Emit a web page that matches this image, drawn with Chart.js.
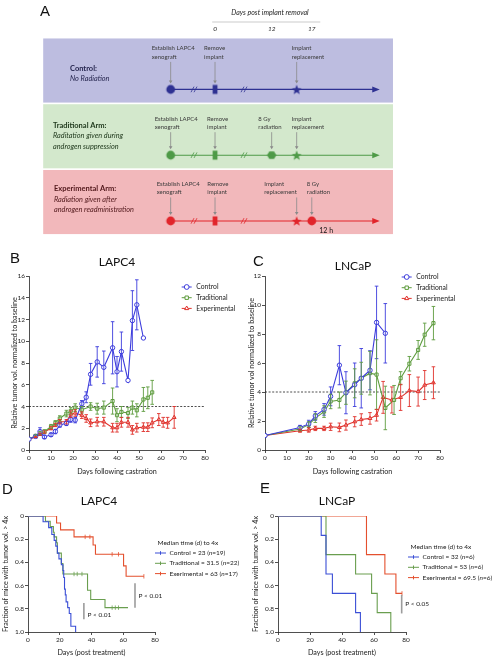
<!DOCTYPE html>
<html>
<head>
<meta charset="utf-8">
<title>Radiation timing and tumour regrowth</title>
<script src="https://cdn.jsdelivr.net/npm/chart.js@4.4.1/dist/chart.umd.min.js"></script>
<style>
  body { margin: 0; background: #fff; }
  #page { position: relative; width: 494px; height: 659px; overflow: hidden; font-family: Lato, "Open Sans", sans-serif; }
  .pane { position: absolute; }
  .letter { position: absolute; font: 15px "Liberation Sans", Arial, sans-serif; line-height: 15px; color: #111; }
  .ttl { position: absolute; font: 12px Lato, sans-serif; line-height: 12px; color: #111; width: 80px; margin-left: -40px; text-align: center; }
</style>
</head>
<body>
<div id="page">
  <div class="pane" style="left:0;top:0;width:494px;height:240px"><canvas id="chartA"></canvas></div>
  <div class="pane" style="left:0;top:240px;width:247px;height:245px"><canvas id="chartB"></canvas></div>
  <div class="pane" style="left:247px;top:240px;width:247px;height:245px"><canvas id="chartC"></canvas></div>
  <div class="pane" style="left:0;top:485px;width:247px;height:174px"><canvas id="chartD"></canvas></div>
  <div class="pane" style="left:247px;top:485px;width:247px;height:174px"><canvas id="chartE"></canvas></div>
  <div class="letter" style="left:40px;top:3px">A</div>
  <div class="letter" style="left:10px;top:250px">B</div>
  <div class="letter" style="left:253px;top:253px">C</div>
  <div class="letter" style="left:2px;top:481px">D</div>
  <div class="letter" style="left:260px;top:480px">E</div>
  <div class="ttl" style="left:117px;top:256px">LAPC4</div>
  <div class="ttl" style="left:353px;top:260px">LNCaP</div>
  <div class="ttl" style="left:99px;top:495px">LAPC4</div>
  <div class="ttl" style="left:337px;top:495px">LNCaP</div>
</div>
<script>
var FONT = 'Lato, "Open Sans", sans-serif';
var INK = '#222';

//! Panel A - study design (schematic positions in days post implant removal)
var armNames = ['Control:', 'Traditional Arm:', 'Experimental Arm:'];
var armNotes = [['No Radiation'], ['Raditation given during', 'androgen suppression'], ['Radiation given after', 'androgen readministration']];
var armLineColors = ['#2e3192', '#4e9a47', '#e1252b'];
var armBoxColors = ['#bdbde0', '#d3e8cc', '#f2b8bb'];
var armTextColors = ['#26264f', '#213a1e', '#4f1619'];
var armEvents = [
    ['establish', 'remove', 'implant'],
    ['establish', 'remove', 'radiation', 'implant'],
    ['establish', 'remove', 'implant', 'radiation']
];
var armEventDays = [
    [-9.4, 0, 17.3],
    [-9.4, 0, 12, 17.3],
    [-9.4, 0, 17.3, 20.5]
];
var armMarkers = [
    ['circle', 'rect', 'star'],
    ['circle', 'rect', 'hex', 'star'],
    ['circle', 'rect', 'star', 'circle']
];
var eventText = {
    establish: ['Establish LAPC4', 'xenograft'],
    remove: ['Remove', 'implant'],
    implant: ['Implant', 'replacement'],
    radiation: ['8 Gy', 'radiation']
};
var headerTitle = 'Days post implant removal';
var headerTicks = ['0', '12', '17'];
var headerTickAt = [0, 12, 20.5];
var breakAt = [-4.45, 6.14];
var timelineStart = -9.4;
var timelineEnd = 34.9;

//! Panel B - LAPC4 relative tumour volume
var bDaysControl = [0, 3, 5, 7, 10, 12, 14, 17, 19, 21, 24, 26, 28, 31, 34, 38, 40, 42, 45, 47, 49, 52];
var bControl = [1, 1.25, 1.7, 1.2, 1.4, 1.7, 2.3, 2.45, 2.8, 2.75, 4.25, 4.85, 6.96, 8.1, 7.6, 9.4, 7.2, 9.05, 6.4, 11.9, 13.35, 10.3];
var bControlErr = [0, 0.1, 0.35, 0.15, 0.15, 0.2, 0.2, 0.2, 0.25, 0.25, 0.3, 0.5, 1.0, 1.4, 1.5, 2.4, 1.4, 1.8, 0, 2.75, 2.3, 0];
var bDaysTrad = [0, 3, 5, 7, 10, 12, 14, 17, 19, 21, 24, 28, 31, 34, 38, 40, 42, 45, 47, 49, 52, 54, 56];
var bTrad = [1, 1.3, 1.55, 1.7, 2.15, 2.5, 2.9, 3.35, 3.6, 3.9, 3.7, 4.0, 3.8, 3.9, 4.5, 3.2, 3.5, 3.4, 3.9, 3.65, 4.65, 4.8, 5.3];
var bTradErr = [0, 0.1, 0.15, 0.15, 0.2, 0.2, 0.25, 0.3, 0.3, 0.35, 0.3, 0.35, 0.5, 0.6, 1.2, 0.6, 0.5, 0.5, 0.6, 0.6, 1.1, 1.0, 1.1];
var bDaysExp = [0, 3, 5, 7, 10, 12, 14, 17, 19, 21, 24, 26, 28, 31, 34, 38, 40, 42, 45, 47, 49, 52, 54, 56, 59, 61, 63, 66];
var bExp = [1, 1.2, 1.45, 1.65, 2.0, 2.3, 2.6, 2.6, 3.3, 3.4, 3.2, 2.9, 2.5, 2.6, 2.6, 2.05, 2.05, 2.55, 2.55, 1.85, 2.05, 2.1, 2.1, 2.5, 2.8, 2.55, 2.5, 3.0];
var bExpErr = [0, 0.05, 0.1, 0.1, 0.15, 0.15, 0.2, 0.2, 0.3, 0.3, 0.3, 0.35, 0.35, 0.4, 0.4, 0.4, 0.4, 0.45, 0.45, 0.4, 0.4, 0.4, 0.4, 0.45, 0.55, 0.45, 0.5, 1.0];

//! Panel C - LNCaP relative tumour volume
var cDaysControl = [0, 16, 20, 23, 27, 30, 34, 37, 41, 44, 48, 51, 55];
var cControl = [1, 1.55, 1.8, 2.35, 2.8, 3.7, 5.85, 3.95, 4.5, 4.95, 5.5, 8.8, 8.05];
var cControlErr = [0, 0.15, 0.25, 0.3, 0.4, 0.65, 1.35, 1.45, 1.5, 2.05, 1.35, 2.5, 2.05];
var cDaysTrad = [0, 16, 20, 23, 27, 30, 34, 37, 41, 44, 48, 51, 55, 59, 62, 66, 70, 73, 77];
var cTrad = [1, 1.45, 1.75, 2.2, 2.65, 3.35, 3.45, 3.95, 4.6, 4.95, 5.3, 5.2, 2.9, 3.45, 4.95, 5.95, 6.9, 7.95, 8.75];
var cTradErr = [0, 0.15, 0.2, 0.3, 0.4, 0.5, 0.55, 0.8, 1.0, 1.1, 1.5, 2.4, 1.5, 1.0, 0.45, 0.5, 0.65, 0.8, 1.15];
var cDaysExp = [0, 16, 20, 23, 27, 30, 34, 37, 41, 44, 48, 51, 54, 58, 62, 66, 70, 73, 77];
var cExp = [1, 1.33, 1.38, 1.49, 1.49, 1.6, 1.56, 1.72, 1.95, 2.1, 2.18, 2.4, 3.63, 3.45, 3.63, 4.1, 4.03, 4.48, 4.64];
var cExpErr = [0, 0.1, 0.15, 0.15, 0.15, 0.25, 0.3, 0.35, 0.35, 0.4, 0.4, 0.4, 1.1, 0.9, 0.9, 1.1, 1.0, 1.0, 1.1];

var growthNames = ['Control', 'Traditional', 'Experimental'];
var growthThreshold = 4;

//! Panel D - LAPC4 time to 4x (fraction reaching 4x, censor ticks flagged with 1)
var dTimeControl = [0, 9.5, 13, 15, 16.5, 17.5, 18.5, 19.5, 21, 22, 22.5, 23, 23.5, 24, 25, 26, 27, 30];
var dFracControl = [0, 0.05, 0.1, 0.16, 0.21, 0.26, 0.32, 0.37, 0.42, 0.47, 0.53, 0.63, 0.68, 0.74, 0.79, 0.84, 0.95, 1];
var dCensControl = [0, 0, 0, 0, 0, 0, 0, 0, 0, 0, 0, 0, 0, 0, 0, 0, 0, 0];
var dTimeTrad = [0, 11, 14, 16, 16.5, 18, 18.5, 21, 22, 29, 31, 34, 37.5, 39.5, 48.5, 53, 55, 57, 63];
var dFracTrad = [0, 0.045, 0.09, 0.14, 0.18, 0.23, 0.32, 0.41, 0.5, 0.5, 0.5, 0.5, 0.64, 0.72, 0.79, 0.79, 0.79, 0.79, 0.79];
var dCensTrad = [0, 0, 0, 0, 0, 0, 0, 0, 0, 1, 1, 1, 0, 0, 0, 1, 1, 1, 0];
var dTimeExp = [0, 18, 20.5, 29, 36, 39, 41, 42.5, 53, 57, 60.2, 61.8, 73];
var dFracExp = [0, 0.06, 0.12, 0.18, 0.18, 0.18, 0.25, 0.33, 0.33, 0.33, 0.43, 0.52, 0.52];
var dCensExp = [0, 0, 0, 0, 1, 1, 0, 0, 1, 1, 0, 0, 1];
var dLegend = ['Control = 23 (n=19)', 'Traditional = 31.5 (n=22)', 'Exerimental = 63 (n=17)'];
var dPvalues = [
    { x: 35.2, y0: 0.75, y1: 0.89, at: 0.85, text: 'P < 0.01' },
    { x: 67.4, y0: 0.58, y1: 0.79, at: 0.69, text: 'P < 0.01' }
];

//! Panel E - LNCaP time to 4x
var eTimeControl = [0, 27, 30, 34, 48.5, 51.5];
var eFracControl = [0, 0.167, 0.5, 0.667, 0.833, 1];
var eCensControl = [0, 0, 0, 0, 0, 0];
var eTimeTrad = [0, 30, 48.5, 58.5, 62, 70.5];
var eFracTrad = [0, 0.333, 0.5, 0.667, 0.833, 1];
var eCensTrad = [0, 0, 0, 0, 0, 0];
var eTimeExp = [0, 55.3, 66.8, 73.7, 77.5];
var eFracExp = [0, 0.333, 0.5, 0.667, 0.667];
var eCensExp = [0, 0, 0, 0, 1];
var eLegend = ['Control = 32 (n=6)', 'Traditional = 53 (n=6)', 'Exerimental = 69.5 (n=6)'];
var ePvalues = [
    { x: 77.3, y0: 0.68, y1: 0.84, at: 0.76, text: 'P < 0.05' }
];
var kmLegendTitle = 'Median time (d) to 4x';

var growthColors = ['#3c3cdc', '#5e9c3e', '#e0322c'];
var kmColors = ['#3b4fd6', '#6a9e4f', '#e4502e'];

function pts(xs, ys) {
    return xs.map(function (x, i) { return { x: x, y: ys[i] }; });
}

function shapeCanvas(shape, color) {
    var c = document.createElement('canvas');
    c.width = 14;
    c.height = 14;
    var g = c.getContext('2d');
    g.fillStyle = color;
    g.beginPath();
    if (shape === 'circle') {
        g.arc(7, 7, 4.4, 0, Math.PI * 2);
    } else if (shape === 'rect') {
        g.rect(4.6, 2.5, 4.8, 9);
    } else if (shape === 'hex') {
        for (var k = 0; k < 6; k++) {
            var a = Math.PI / 3 * k;
            g.lineTo(7 + 4.7 * Math.cos(a), 7 + 4.3 * Math.sin(a));
        }
    } else {
        for (var s = 0; s < 10; s++) {
            var r = s % 2 ? 2.2 : 5.2;
            var b = -Math.PI / 2 + Math.PI / 5 * s;
            g.lineTo(7 + r * Math.cos(b), 7.5 + r * Math.sin(b));
        }
    }
    g.closePath();
    g.fill();
    return c;
}

// layout nudges for the schematic text (pixels)
var nameX = [70, 53, 54];
var nameDy = [-21, -30, -32];
var labelDy = [-41, -36.5, -37];
var labelDx = [[-19, -11, -5], [-16, -8, -13.4, -5], [-14, -7.7, -32.4, -5]];

var schematic = {
    id: 'schematic',
    beforeDatasetsDraw: function (chart) {
        var ctx = chart.ctx, xs = chart.scales.x, ys = chart.scales.y;
        ctx.save();
        armNames.forEach(function (n, r) {
            var top = ys.getPixelForValue(r - 0.775), bot = ys.getPixelForValue(r + 0.2);
            var left = xs.getPixelForValue(-36.4), right = xs.getPixelForValue(37.7);
            ctx.fillStyle = armBoxColors[r];
            ctx.fillRect(left, top, right - left, bot - top);
        });
        ctx.restore();
    },
    afterDatasetsDraw: function (chart) {
        var ctx = chart.ctx, xs = chart.scales.x, ys = chart.scales.y;
        ctx.save();
        ctx.textBaseline = 'middle';

        // header
        var hx = xs.getPixelForValue(11);
        ctx.fillStyle = INK;
        ctx.textAlign = 'center';
        ctx.font = 'italic 7px ' + FONT;
        ctx.fillText(headerTitle, hx + 3, 13);
        ctx.strokeStyle = '#aaa';
        ctx.lineWidth = 0.6;
        ctx.beginPath();
        ctx.moveTo(xs.getPixelForValue(-0.6), 22);
        ctx.lineTo(xs.getPixelForValue(22.3), 22);
        ctx.stroke();
        ctx.font = 'italic 6.5px ' + FONT;
        headerTicks.forEach(function (t, i) {
            ctx.fillText(t, xs.getPixelForValue(headerTickAt[i]), 28.5);
        });

        armNames.forEach(function (name, r) {
            var y0 = ys.getPixelForValue(r);
            var col = armLineColors[r];

            // arm name and note
            ctx.textAlign = 'left';
            ctx.fillStyle = armTextColors[r];
            ctx.font = 'bold 7.5px ' + FONT;
            ctx.fillText(name, nameX[r], y0 + nameDy[r]);
            ctx.font = 'italic 7.3px ' + FONT;
            armNotes[r].forEach(function (line, k) {
                ctx.fillText(line, nameX[r], y0 + nameDy[r] + 10.5 * (k + 1));
            });

            // event labels and grey arrows
            armEvents[r].forEach(function (ev, k) {
                var x = xs.getPixelForValue(armEventDays[r][k]);
                var ly = y0 + labelDy[r];
                ctx.fillStyle = '#3a3a3a';
                ctx.font = '6px ' + FONT;
                ctx.fillText(eventText[ev][0], x + labelDx[r][k], ly);
                ctx.fillText(eventText[ev][1], x + labelDx[r][k], ly + 8.6);
                var a0 = ly + 13.5, a1 = y0 - 6;
                ctx.strokeStyle = '#8a8a8a';
                ctx.lineWidth = 0.8;
                ctx.beginPath();
                ctx.moveTo(x, a0);
                ctx.lineTo(x, a1 - 2);
                ctx.stroke();
                ctx.fillStyle = '#8a8a8a';
                ctx.beginPath();
                ctx.moveTo(x - 1.8, a1 - 3);
                ctx.lineTo(x + 1.8, a1 - 3);
                ctx.lineTo(x, a1);
                ctx.closePath();
                ctx.fill();
            });

            // axis breaks
            ctx.strokeStyle = col;
            ctx.lineWidth = 0.8;
            breakAt.forEach(function (d) {
                var bx = xs.getPixelForValue(d);
                [-1.5, 1.5].forEach(function (o) {
                    ctx.beginPath();
                    ctx.moveTo(bx + o - 1.5, y0 + 2.8);
                    ctx.lineTo(bx + o + 1.5, y0 - 2.8);
                    ctx.stroke();
                });
            });

            // arrow head
            var tip = xs.getPixelForValue(timelineEnd);
            ctx.fillStyle = col;
            ctx.beginPath();
            ctx.moveTo(tip, y0);
            ctx.lineTo(tip - 7.5, y0 - 3);
            ctx.lineTo(tip - 7.5, y0 + 3);
            ctx.closePath();
            ctx.fill();
        });

        ctx.fillStyle = '#111';
        ctx.textAlign = 'left';
        ctx.font = '7px ' + FONT;
        ctx.fillText('12 h', xs.getPixelForValue(20.5) + 7.5, ys.getPixelForValue(2) + 9.5);
        ctx.restore();
    }
};

var datasetsA = [];
armNames.forEach(function (name, r) {
    datasetsA.push({
        data: armEventDays[r].map(function (d) { return { x: d, y: r }; }),
        pointStyle: armMarkers[r].map(function (m) { return shapeCanvas(m, armLineColors[r]); }),
        pointRadius: 5,
        showLine: false
    });
    datasetsA.push({
        data: [{ x: timelineStart, y: r }, { x: timelineEnd - 1.3, y: r }],
        borderColor: armLineColors[r],
        borderWidth: 1.1,
        pointRadius: 0,
        showLine: true
    });
});

new Chart(document.getElementById('chartA'), {
    type: 'scatter',
    data: { datasets: datasetsA },
    options: {
        responsive: true,
        maintainAspectRatio: false,
        animation: false,
        events: [],
        layout: { padding: 0, autoPadding: false },
        plugins: { legend: { display: false }, tooltip: { enabled: false } },
        scales: {
            x: { type: 'linear', display: false, min: -45.55, max: 59.1 },
            y: { type: 'linear', display: false, min: -1.36, max: 2.29, reverse: true }
        }
    },
    plugins: [schematic]
});

//! shared axis helper (Prism-like: left/bottom axes, outward ticks, no grid)
function prismAxis(min, max, step, title, size, titlePad, horizontal, reverse) {
    return {
        type: 'linear',
        min: min,
        max: max,
        reverse: !!reverse,
        ticks: { stepSize: step, autoSkip: false, maxRotation: 0, padding: 1, color: INK, font: { family: FONT, size: 6.5 } },
        grid: { display: true, drawOnChartArea: false, drawTicks: true, tickLength: 3, tickColor: INK, tickWidth: 0.8 },
        border: { display: true, color: INK, width: 0.8 },
        title: { display: true, text: title, color: INK, font: { family: FONT, size: 7.2 }, padding: titlePad },
        afterFit: function (s) {
            if (horizontal) { s.height = size; } else { s.width = size; }
        }
    };
}

var errorBars = {
    id: 'errorBars',
    afterDatasetsDraw: function (chart) {
        var ctx = chart.ctx, ys = chart.scales.y;
        ctx.save();
        chart.data.datasets.forEach(function (ds, i) {
            var meta = chart.getDatasetMeta(i);
            ctx.strokeStyle = ds.borderColor;
            ctx.lineWidth = 0.9;
            meta.data.forEach(function (pt, j) {
                var e = ds.errors[j];
                if (!e) return;
                var v = ds.data[j].y;
                var top = ys.getPixelForValue(v + e), bot = ys.getPixelForValue(v - e);
                ctx.beginPath();
                ctx.moveTo(pt.x, top);
                ctx.lineTo(pt.x, bot);
                ctx.moveTo(pt.x - 1.8, top);
                ctx.lineTo(pt.x + 1.8, top);
                ctx.moveTo(pt.x - 1.8, bot);
                ctx.lineTo(pt.x + 1.8, bot);
                ctx.stroke();
            });
        });
        ctx.restore();
    }
};

var thresholdLine = {
    id: 'thresholdLine',
    beforeDatasetsDraw: function (chart) {
        var ctx = chart.ctx, a = chart.chartArea;
        var y = chart.scales.y.getPixelForValue(growthThreshold);
        ctx.save();
        ctx.strokeStyle = INK;
        ctx.lineWidth = 0.8;
        ctx.setLineDash([2, 1.6]);
        ctx.beginPath();
        ctx.moveTo(a.left, y);
        ctx.lineTo(a.right, y);
        ctx.stroke();
        ctx.restore();
    }
};

function seriesLegend(x0, y0, gap) {
    return {
        id: 'seriesLegend',
        afterDraw: function (chart) {
            var ctx = chart.ctx;
            ctx.save();
            chart.data.datasets.forEach(function (ds, i) {
                var y = y0 + gap * i;
                ctx.strokeStyle = ds.borderColor;
                ctx.lineWidth = 1;
                ctx.beginPath();
                ctx.moveTo(x0, y);
                ctx.lineTo(x0 + 10, y);
                ctx.stroke();
                ctx.fillStyle = '#fff';
                Chart.helpers.drawPoint(ctx, { pointStyle: ds.pointStyle, radius: 2.4, borderWidth: 1, rotation: 0 }, x0 + 5, y);
                ctx.fillStyle = INK;
                ctx.font = '6.8px ' + FONT;
                ctx.textAlign = 'left';
                ctx.textBaseline = 'middle';
                ctx.fillText(ds.label, x0 + 14.5, y);
            });
            ctx.restore();
        }
    };
}

function growthChart(id, days, vals, errs, yMax, yTitle, yWidth, yTitlePad, padRight, legend) {
    var markers = ['circle', 'rect', 'triangle'];
    var datasets = growthNames.map(function (name, i) {
        return {
            label: name,
            data: pts(days[i], vals[i]),
            errors: errs[i],
            borderColor: growthColors[i],
            pointBorderColor: growthColors[i],
            pointBackgroundColor: '#fff',
            pointStyle: markers[i],
            pointRadius: 2.2,
            pointBorderWidth: 1,
            borderWidth: 1.1
        };
    });
    return new Chart(document.getElementById(id), {
        type: 'line',
        data: { datasets: datasets },
        options: {
            responsive: true,
            maintainAspectRatio: false,
            animation: false,
            events: [],
            layout: { padding: { left: 0, right: padRight, top: 36, bottom: 0 }, autoPadding: false },
            plugins: { legend: { display: false }, tooltip: { enabled: false } },
            scales: {
                x: prismAxis(0, 80, 10, 'Days following castration', 35, { top: 0, bottom: 9.5 }, true),
                y: prismAxis(0, yMax, 2, yTitle, yWidth, { top: yTitlePad, bottom: 0 }, false)
            }
        },
        plugins: [thresholdLine, errorBars, seriesLegend(legend[0], legend[1], legend[2])]
    });
}

growthChart('chartB', [bDaysControl, bDaysTrad, bDaysExp], [bControl, bTrad, bExp], [bControlErr, bTradErr, bExpErr],
    16, 'Relative tumor vol. normalized to baseline', 29, 10.5, 42, [181.7, 47, 10.7]);
growthChart('chartC', [cDaysControl, cDaysTrad, cDaysExp], [cControl, cTrad, cExp], [cControlErr, cTradErr, cExpErr],
    12, 'Relative tumor vol normalized to baseline', 18, 0.3, 54, [154.7, 37, 10.7]);

//! Kaplan-Meier style panels
function kmLegend(x0, y0, entries) {
    return {
        id: 'kmLegend',
        afterDraw: function (chart) {
            var ctx = chart.ctx;
            ctx.save();
            ctx.textAlign = 'left';
            ctx.textBaseline = 'middle';
            ctx.fillStyle = INK;
            ctx.font = '6.5px ' + FONT;
            ctx.fillText(kmLegendTitle, x0 + 2.5, y0);
            entries.forEach(function (txt, i) {
                var y = y0 + 10.3 * (i + 1);
                ctx.strokeStyle = kmColors[i];
                ctx.lineWidth = 1;
                ctx.beginPath();
                ctx.moveTo(x0, y);
                ctx.lineTo(x0 + 11, y);
                ctx.moveTo(x0 + 5.5, y - 1.8);
                ctx.lineTo(x0 + 5.5, y + 1.8);
                ctx.stroke();
                var parts = txt.split('(n=');
                var x = x0 + 14.5;
                ctx.fillStyle = INK;
                ctx.font = '6.5px ' + FONT;
                ctx.fillText(parts[0] + '(', x, y);
                x += ctx.measureText(parts[0] + '(').width;
                ctx.font = 'italic 6.5px ' + FONT;
                ctx.fillText('n', x, y);
                x += ctx.measureText('n').width;
                ctx.font = '6.5px ' + FONT;
                ctx.fillText('=' + parts[1], x, y);
            });
            ctx.restore();
        }
    };
}

function pBars(list) {
    return {
        id: 'pBars',
        afterDraw: function (chart) {
            var ctx = chart.ctx, xs = chart.scales.x, ys = chart.scales.y;
            ctx.save();
            list.forEach(function (p) {
                var x = xs.getPixelForValue(p.x);
                ctx.strokeStyle = '#9c9c9c';
                ctx.lineWidth = 1.6;
                ctx.beginPath();
                ctx.moveTo(x, ys.getPixelForValue(p.y0));
                ctx.lineTo(x, ys.getPixelForValue(p.y1));
                ctx.stroke();
                ctx.fillStyle = INK;
                ctx.font = '6.5px ' + FONT;
                ctx.textAlign = 'left';
                ctx.textBaseline = 'middle';
                ctx.fillText(p.text, x + 3.5, ys.getPixelForValue(p.at));
            });
            ctx.restore();
        }
    };
}

function kmChart(id, times, fracs, cens, yWidth, yTitlePad, padRight, legend, pvals) {
    var datasets = times.map(function (t, i) {
        return {
            data: pts(t, fracs[i]),
            stepped: true,
            borderColor: kmColors[i],
            borderWidth: 1.1,
            pointStyle: 'line',
            pointRotation: 90,
            pointBorderColor: kmColors[i],
            pointBorderWidth: 0.8,
            pointRadius: cens[i].map(function (c) { return c ? 2.2 : 0; })
        };
    });
    return new Chart(document.getElementById(id), {
        type: 'line',
        data: { datasets: datasets },
        options: {
            responsive: true,
            maintainAspectRatio: false,
            animation: false,
            events: [],
            layout: { padding: { left: 0, right: padRight, top: 31, bottom: 0 }, autoPadding: false },
            plugins: { legend: { display: false }, tooltip: { enabled: false } },
            scales: {
                x: prismAxis(0, 80, 20, 'Days (post treatment)', 27, { top: 0, bottom: 1.8 }, true),
                y: prismAxis(0, 1, 0.2, 'Fraction of mice with tumor vol. > 4x', yWidth, { top: yTitlePad, bottom: 0 }, false, true)
            }
        },
        plugins: [pBars(pvals), kmLegend(legend[0], legend[1], legend[2])]
    });
}

kmChart('chartD', [dTimeControl, dTimeTrad, dTimeExp], [dFracControl, dFracTrad, dFracExp], [dCensControl, dCensTrad, dCensExp],
    28, 1.5, 92, [155, 57.7, dLegend], dPvalues);
kmChart('chartE', [eTimeControl, eTimeTrad, eTimeExp], [eFracControl, eFracTrad, eFracExp], [eCensControl, eCensTrad, eCensExp],
    31, 4.2, 88, [161, 61.7, eLegend], ePvalues);
</script>
</body>
</html>
